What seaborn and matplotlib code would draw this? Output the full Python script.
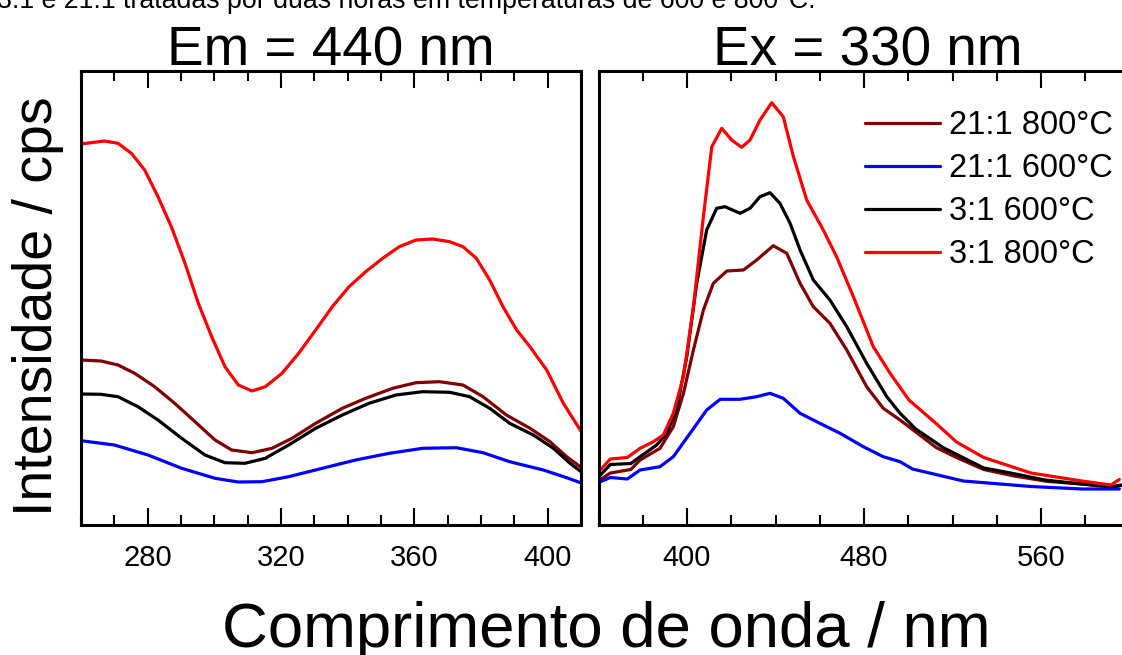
import matplotlib
matplotlib.use("Agg")
import matplotlib.pyplot as plt
import pandas as pd
import seaborn as sns
from matplotlib.ticker import MultipleLocator, NullLocator

# Sample labels and line colours (legend order)
labels = ["21:1 800°C", "21:1 600°C", "3:1 600°C", "3:1 800°C"]
colors = ["#800000", "#0000ff", "#000000", "#ff0000"]

# ---- Excitation spectra (emission fixed at 440 nm), arbitrary intensity units
exc_21_800_nm = [260, 266, 271.1, 276.1, 282.1, 288.1, 294.2, 300.2, 305.2, 311.3, 317.3,
                 323.3, 330.4, 338.4, 345.4, 353.5, 360.5, 367.5, 374.6, 380.6, 387.6,
                 394.7, 400.7, 405.7, 410.4]
exc_21_800_i = [165, 164, 160, 151.7, 138.3, 121.7, 103.3, 85, 75, 72.3, 76.7,
                86.7, 101.7, 116.7, 126.7, 136.7, 142.3, 143.3, 140, 128.3, 110,
                96.7, 83.3, 68.3, 56.7]

exc_21_600_nm = [260, 270, 280.1, 290.2, 300.2, 307.2, 314.3, 322.3, 332.4, 342.4,
                 352.5, 362.5, 372.6, 380.6, 388.6, 398.7, 405.7, 410.4]
exc_21_600_i = [84.3, 80, 70, 56.7, 46.7, 43, 43.3, 48.3, 56.7, 65,
                71.7, 76.7, 77.3, 72.3, 63.3, 55, 47.3, 41.7]

exc_3_600_nm = [260, 266, 271.1, 277.1, 283.1, 290.2, 297.2, 303.2, 309.2, 315.3, 322.3,
                330.4, 338.4, 346.4, 354.5, 362.5, 370.6, 376.6, 382.6, 388.6, 395.7,
                401.7, 406.7, 410.4]
exc_3_600_i = [131, 130.7, 128.3, 118.3, 105, 86.7, 70, 62.3, 61.7, 66.7, 80,
               96.7, 110, 121.7, 130, 133.3, 132.7, 128.3, 116.7, 101.7, 90,
               76.7, 61.7, 52.3]

exc_3_800_nm = [260, 263, 267, 271.1, 275.1, 279.1, 283.1, 287.1, 291.2, 295.2, 299.2,
                303.2, 307.2, 311.3, 315.3, 320.3, 325.3, 330.4, 335.4, 340.4, 345.4,
                350.5, 355.5, 360.5, 365.5, 370.6, 374.6, 378.6, 382.6, 386.6, 390.7,
                394.7, 399.7, 404.7, 410.4]
exc_3_800_i = [381, 382.3, 384, 381.7, 371.7, 355, 328.3, 298.3, 261.7, 221.7, 188.3,
               158.3, 140, 134, 138.3, 151.7, 171.7, 195, 218.3, 238.3, 253.3,
               266.7, 278.3, 285, 286, 283.3, 278.3, 266.7, 245, 218.3, 195,
               178.3, 155, 121.7, 91.7]

# ---- Emission spectra (excitation fixed at 330 nm)
em_21_800_nm = [359.5, 365.4, 374.6, 378.8, 387.8, 393.8, 398.4, 402.9, 407.4, 411.9,
                418.0, 425.5, 431.5, 439.0, 445.1, 451.1, 457.1, 464.6, 472.2, 481.2,
                488.7, 496.3, 512.6, 521.8, 534.1, 547.9, 563.2, 578.5, 592.4, 596.2]
em_21_800_i = [43.5, 52, 55.5, 65, 76.7, 98.3, 131.7, 175, 215, 241.7,
               254, 255, 265, 279.3, 271.7, 241.7, 218.3, 201.7, 175, 138.3,
               116.7, 105, 77.5, 67.5, 55.5, 49, 43.5, 41, 37.5, 39.5]

em_21_600_nm = [359.5, 365.4, 373.0, 378.8, 387.8, 393.8, 401.4, 408.9, 415.0, 424.0,
                431.5, 437.5, 443.5, 451.1, 458.6, 469.2, 479.7, 488.7, 496.3, 501.9,
                524.9, 555.5, 578.5, 595.4]
em_21_600_i = [42, 47.5, 46, 55, 58.3, 68.3, 91.7, 115, 125.7, 125.7,
               128.3, 131.7, 126.7, 111.7, 103.3, 91.7, 78.3, 68.3, 63.3, 56,
               44, 38.5, 36, 36]

em_3_600_nm = [359.5, 365.4, 374.6, 378.8, 386.3, 390.8, 395.3, 399.9, 404.4, 408.9,
               413.4, 417.2, 424.0, 428.5, 433.0, 437.5, 442.0, 446.6, 451.1, 457.1,
               464.6, 472.2, 481.2, 490.3, 496.3, 503.4, 515.7, 523.3, 534.1, 546.3,
               561.7, 578.5, 592.4, 596.2]
em_3_600_i = [47, 60.5, 61.5, 68.3, 80, 91.7, 115, 168.3, 241.7, 295,
              316.7, 318.3, 311.7, 316.7, 328.3, 332.3, 321.7, 301.7, 275, 245,
              225, 198.3, 161.7, 128.3, 111.7, 96, 77.5, 69, 57, 52,
              45, 41, 38.5, 40]

em_3_800_nm = [359.5, 365.4, 373.0, 378.8, 384.8, 389.3, 393.8, 398.4, 402.9, 407.4,
               411.2, 415.7, 420.2, 424.7, 428.5, 433.0, 438.3, 443.5, 448.1, 454.1,
               461.6, 467.6, 475.2, 484.2, 491.8, 500.3, 512.6, 521.8, 534.1, 555.5,
               578.5, 591.6, 595.4]
em_3_800_i = [52, 66, 67.5, 76.7, 83.3, 90, 111.7, 148.3, 218.3, 308.3,
              378.3, 396.7, 385, 377.7, 385, 405, 422.3, 408.3, 368.3, 325,
              295, 268.3, 228.3, 178.3, 151.7, 125, 101.5, 83, 67.5, 52,
              44, 40, 45.5]


def long_frame(series):
    rows = []
    for lab, xs, ys in series:
        for x, y in zip(xs, ys):
            rows.append({"nm": x, "I": y, "amostra": lab})
    return pd.DataFrame(rows)


exc = long_frame([
    (labels[0], exc_21_800_nm, exc_21_800_i),
    (labels[1], exc_21_600_nm, exc_21_600_i),
    (labels[2], exc_3_600_nm, exc_3_600_i),
    (labels[3], exc_3_800_nm, exc_3_800_i),
])
emi = long_frame([
    (labels[0], em_21_800_nm, em_21_800_i),
    (labels[1], em_21_600_nm, em_21_600_i),
    (labels[2], em_3_600_nm, em_3_600_i),
    (labels[3], em_3_800_nm, em_3_800_i),
])

sns.set_style("white")
plt.rcParams["font.family"] = ["Liberation Sans", "DejaVu Sans"]
plt.rcParams["text.color"] = "black"
plt.rcParams["axes.labelcolor"] = "black"
plt.rcParams["xtick.color"] = "black"
plt.rcParams["ytick.color"] = "black"
plt.rcParams["lines.solid_joinstyle"] = "round"
plt.rcParams["lines.solid_capstyle"] = "round"

W, H = 1122, 655
fig = plt.figure(figsize=(W / 100, H / 100), dpi=100)
ax1 = fig.add_axes([81 / W, 130 / H, 500 / W, 454 / H])
ax2 = fig.add_axes([598.5 / W, 130 / H, 531 / W, 454 / H])

LW = 2.3
palette = dict(zip(labels, colors))
sns.lineplot(data=exc, x="nm", y="I", hue="amostra", hue_order=labels,
             palette=palette, estimator=None, sort=True, lw=LW, ax=ax1, legend=False)
sns.lineplot(data=emi, x="nm", y="I", hue="amostra", hue_order=labels,
             palette=palette, estimator=None, sort=True, lw=LW, ax=ax2, legend=True)

for ax, (x0, x1), major, minor in [(ax1, (260, 410), 40, 10), (ax2, (360, 600), 80, 20)]:
    ax.set_xlim(x0, x1)
    ax.set_ylim(0, 454)
    ax.xaxis.set_major_locator(MultipleLocator(major))
    ax.xaxis.set_minor_locator(MultipleLocator(minor))
    ax.yaxis.set_major_locator(NullLocator())
    ax.yaxis.set_minor_locator(NullLocator())
    ax.tick_params(axis="x", which="both", direction="in", top=True, bottom=True,
                   labelsize=21, pad=13.5, colors="black")
    ax.tick_params(axis="x", which="major", length=12, width=1.5)
    ax.tick_params(axis="x", which="minor", length=7, width=1.5)
    ax.set_xlabel("")
    ax.set_ylabel("")
    for sp in ax.spines.values():
        sp.set_visible(True)
        sp.set_color("black")
        sp.set_linewidth(2.2)

ax1.set_xticks([280, 320, 360, 400])
ax1.set_title("Em = 440 nm", fontsize=39.5, y=1 + 6 / 454, va="baseline", pad=0)
ax2.set_title("Ex = 330 nm", fontsize=39.5, x=0.5075, y=1 + 6 / 454, va="baseline", pad=0)

old = ax2.get_legend()
handles = old.legend_handles
ax2.legend(handles, labels, loc="upper left",
           bbox_to_anchor=(865 / W, 1 - 110 / H), bbox_transform=fig.transFigure,
           frameon=False, fontsize=23.5, handlelength=2.3, handletextpad=0.26,
           labelspacing=0.37, borderpad=0, borderaxespad=0)
for h in ax2.get_legend().legend_handles:
    h.set_linewidth(LW)

fig.text(52 / W, 1 - 306 / H, "Intensidade / cps", rotation=90, rotation_mode="anchor",
         ha="center", va="baseline", fontsize=40)
fig.text(606 / W, 1 - 646.7 / H, "Comprimento de onda / nm", ha="center",
         va="baseline", fontsize=45.7)
fig.text(-3 / W, 1 - 7.5 / H,
         "3:1 e 21:1 tratadas por duas horas em temperaturas de 600 e 800°C.",
         ha="left", va="baseline", fontsize=19.3)

fig.savefig("out.png", dpi=100)
